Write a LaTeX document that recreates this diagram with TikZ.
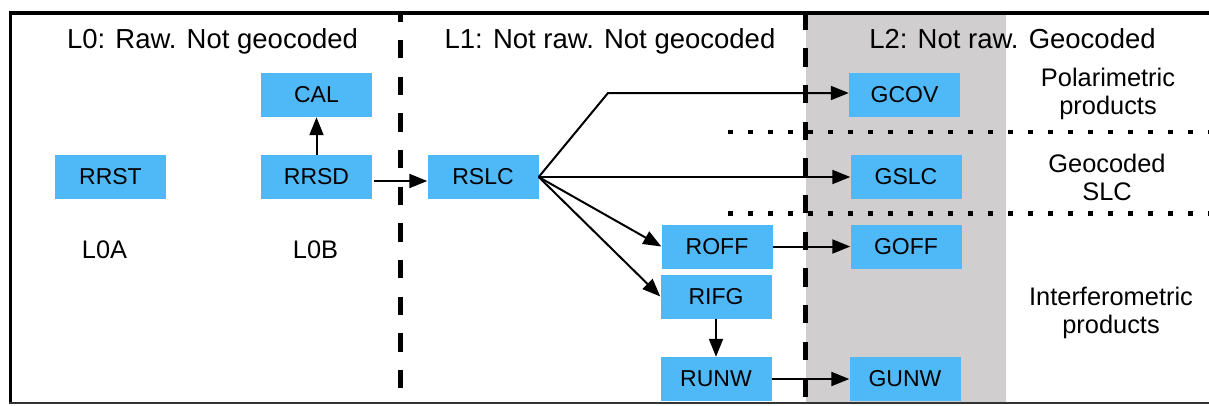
\documentclass[tikz,border=0pt]{standalone}
\usepackage{fontspec}
\setmainfont{Liberation Sans}
\usetikzlibrary{arrows.meta}
\definecolor{boxblue}{RGB}{79,184,247}
\definecolor{ltwogray}{RGB}{208,206,207}
\begin{document}
\begin{tikzpicture}[x=1pt,y=-1pt,
  prod/.style={rectangle, fill=boxblue, minimum width=111pt, minimum height=44pt, inner sep=0pt, font=\fontsize{23}{27}\selectfont},
  arr/.style={line width=2pt, -{Triangle[length=18pt,width=14pt]}},
  title/.style={font=\fontsize{27.5}{33}\selectfont, anchor=base, inner sep=0pt},
  lab/.style={font=\fontsize{25.4}{28}\selectfont, align=center, inner sep=0pt},
  lvl/.style={line width=5pt, dash pattern=on 18.33pt off 18.33pt},
  dotline/.style={line width=4.5pt, dash pattern=on 4.5pt off 15.5pt}]
\useasboundingbox (0,0) rectangle (1209,405);
% shaded L2 column
\fill[ltwogray] (806,15) rectangle (1005.5,402);
% titles
\node[title] (t0) at (212.5,48) {L0: Raw. Not geocoded};
\node[title] (t1) at (610,48) {L1: Not raw. Not geocoded};
\node[title] (t2) at (1012.5,48) {L2: Not raw. Geocoded};
% product boxes
\node[prod] (CAL)  at (316.5,95)  {CAL};
\node[prod] (RRST) at (110.5,177) {RRST};
\node[prod] (RRSD) at (316.5,177) {RRSD};
\node[prod] (RSLC) at (483,177)   {RSLC};
\node[prod] (GCOV) at (904.5,95)  {GCOV};
\node[prod] (GSLC) at (906,177)   {GSLC};
\node[prod] (ROFF) at (717,246.5) {ROFF};
\node[prod] (GOFF) at (906,246.5) {GOFF};
\node[prod] (RIFG) at (716,296.5) {RIFG};
\node[prod] (RUNW) at (716,379)   {RUNW};
\node[prod] (GUNW) at (905,379)   {GUNW};
% labels
\node[title, font=\fontsize{25.4}{28}\selectfont] (l0a) at (104.5,258) {L0A};
\node[title, font=\fontsize{25.4}{28}\selectfont] (l0b) at (315.5,258) {L0B};
\node[lab] (pol) at (1108,94) {Polarimetric\\products};
\node[lab] (geo) at (1107,177) {Geocoded\\SLC};
\node[lab] (ifg) at (1111,313) {Interferometric\\products};
% dotted separators
\draw[dotline] (728,132) -- (1209,132);
\draw[dotline] (728,213.5) -- (1209,213.5);
% arrows
\coordinate (bend) at (608,93);
\draw[arr] (RRSD.north) -- (CAL.south);
\draw[arr] ([xshift=2pt,yshift=-4pt]RRSD.east) -- ([yshift=-4pt]RSLC.west);
\draw[arr] (RSLC.east) -- (bend) -- (bend -| GCOV.west);
\draw[arr] (RSLC.east) -- (GSLC.west);
\draw[arr] (RSLC.east) -- (ROFF.west);
\draw[arr] (RSLC.east) -- (RIFG.west);
\draw[arr] (ROFF.east) -- (GOFF.west);
\draw[arr] (RIFG.south) -- (RUNW.north);
\draw[arr] (RUNW.east) -- (GUNW.west);
% level separators
\draw[lvl, dash phase=9.67pt] (400.5,13) -- (400.5,403);
\draw[lvl, dash phase=1.33pt] (805.5,13) -- (805.5,403);
% frame
\draw[line width=4pt] (8.7,13) -- (1209,13);
\draw[line width=3.5pt] (10.5,11) -- (10.5,404);
\draw[line width=2pt, black!80] (9,403) -- (1209,403);
\end{tikzpicture}
\end{document}
